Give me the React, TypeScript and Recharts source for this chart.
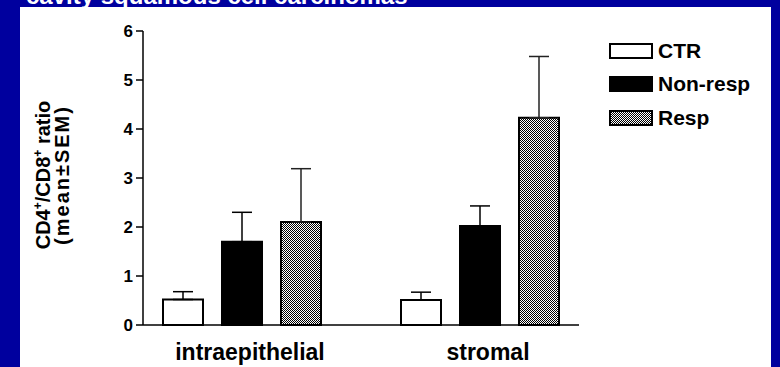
import { BarChart, Bar, XAxis, YAxis, ErrorBar, Legend } from 'recharts'

// values (mean, upper SEM)
const categories = ['intraepithelial', 'stromal']
const ctrMean = [0.52, 0.51]
const ctrSem = [0.16, 0.16]
const nonRespMean = [1.70, 2.02]
const nonRespSem = [0.60, 0.41]
const respMean = [2.10, 4.23]
const respSem = [1.09, 1.25]
const yTicks = [0, 1, 2, 3, 4, 5, 6]

const FONT = '"Liberation Sans", Arial, sans-serif'
const BLUE = '#00009E'

const data = categories.map((name, i) => ({
  name,
  ctr: ctrMean[i],
  ctrErr: [0, ctrSem[i]],
  nonResp: nonRespMean[i],
  nonRespErr: [0, nonRespSem[i]],
  resp: respMean[i],
  respErr: [0, respSem[i]],
}))

const swatchFill: Record<string, string> = {
  ctr: '#fff',
  nonResp: '#000',
  resp: 'url(#dotsLegend)',
}

function DotPattern({ id }: { id: string }) {
  return (
    <pattern id={id} width="2" height="2" patternUnits="userSpaceOnUse">
      <rect width="2" height="2" fill="#fff" />
      <rect width="1" height="1" fill="#000" />
      <rect x="1" y="1" width="1" height="1" fill="#000" />
    </pattern>
  )
}

function renderLegend(props: any) {
  const items = props.payload || []
  return (
    <div style={{ fontFamily: FONT }}>
      {items.map((it: any) => (
        <div key={it.value} style={{ display: 'flex', alignItems: 'center', height: 33.5 }}>
          <svg width={44} height={16} style={{ display: 'block' }}>
            <defs>
              <DotPattern id="dotsLegend" />
            </defs>
            <rect x={1} y={1} width={42} height={14} fill={swatchFill[it.dataKey]} stroke="#000" strokeWidth={1.5} shapeRendering="crispEdges" />
          </svg>
          <span style={{ marginLeft: 5, fontSize: 21, fontWeight: 'bold', color: '#000', lineHeight: '24px' }}>{it.value}</span>
        </div>
      ))}
    </div>
  )
}

function XTick(props: any) {
  const { x, y, payload } = props
  return (
    <text x={x + 8} y={y + 35} textAnchor="middle" fontFamily={FONT} fontSize={23} fontWeight="bold" fill="#000">
      {payload.value}
    </text>
  )
}

export default function App() {
  return (
    <div style={{ position: 'absolute', left: 0, top: 0, width: 780, height: 367, background: BLUE, overflow: 'hidden' }}>
      <div style={{ position: 'absolute', left: 20, top: 7, width: 751, height: 360, background: '#fff' }} />
      <svg width={780} height={367} style={{ position: 'absolute', left: 0, top: 0 }}>
        <text x={26} y={4} fill="#fff" fontFamily={FONT} fontSize={24} fontWeight="bold">
          cavity squamous cell carcinomas
        </text>
        <g fontFamily={FONT} fontWeight="bold" fill="#000" textAnchor="middle">
          <text transform="translate(50,175) rotate(-90)" fontSize={20}>
            CD4<tspan fontSize={12} dy={-8}>+</tspan>
            <tspan dy={8}>/CD8</tspan>
            <tspan fontSize={12} dy={-8}>+</tspan>
            <tspan dy={8}> ratio</tspan>
          </text>
          <text transform="translate(69,175) rotate(-90)" fontSize={20} letterSpacing={2}>
            (mean±SEM)
          </text>
        </g>
      </svg>
      <BarChart
        width={780}
        height={367}
        data={data}
        margin={{ top: 31, right: 201, bottom: 0, left: 0 }}
        barSize={40}
        barGap={19}
        style={{ position: 'absolute', left: 0, top: 0 }}
      >
        <defs>
          <DotPattern id="dots" />
        </defs>
        <XAxis
          dataKey="name"
          height={42}
          padding={{ left: -20, right: -20 }}
          tickLine={false}
          tickSize={0}
          tickMargin={0}
          tick={<XTick />}
          axisLine={{ stroke: '#000', strokeWidth: 1.5 }}
        />
        <YAxis
          width={143}
          domain={[0, 6]}
          ticks={yTicks}
          interval={0}
          tickSize={7}
          tickMargin={3}
          tickLine={{ stroke: '#000', strokeWidth: 1.5 }}
          axisLine={{ stroke: '#000', strokeWidth: 1.5 }}
          tick={{ fill: '#000', fontSize: 17, fontWeight: 'bold', fontFamily: FONT }}
        />
        <Legend
          layout="vertical"
          verticalAlign="middle"
          align="center"
          content={renderLegend}
          wrapperStyle={{ left: 609, top: 34, width: 170 }}
        />
        <Bar dataKey="ctr" name="CTR" fill="#fff" stroke="#000" strokeWidth={2} isAnimationActive={false}>
          <ErrorBar dataKey="ctrErr" width={10} stroke="#000" strokeWidth={1.5} />
        </Bar>
        <Bar dataKey="nonResp" name="Non-resp" fill="#000" stroke="#000" strokeWidth={2} isAnimationActive={false}>
          <ErrorBar dataKey="nonRespErr" width={10} stroke="#000" strokeWidth={1.5} />
        </Bar>
        <Bar dataKey="resp" name="Resp" fill="url(#dots)" stroke="#000" strokeWidth={2} isAnimationActive={false}>
          <ErrorBar dataKey="respErr" width={10} stroke="#222" strokeWidth={1.5} />
        </Bar>
      </BarChart>
    </div>
  )
}
